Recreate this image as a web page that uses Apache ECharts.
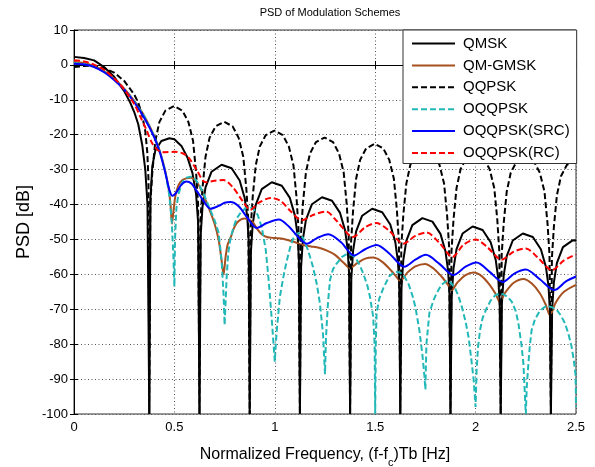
<!DOCTYPE html>
<html>
<head>
<meta charset="utf-8">
<script src="https://cdn.jsdelivr.net/npm/echarts@6/dist/echarts.min.js"></script>
<style>
html,body{margin:0;padding:0;background:#fff;}
#c{width:595px;height:467px;}
</style>
</head>
<body>
<div id="c"></div>
<script>
// ---- Data ----
const seriesNames = ['QMSK', 'QM-GMSK', 'QQPSK', 'OQQPSK', 'OQQPSK(SRC)', 'OQQPSK(RC)'];
const xTickLabels = ['0', '0.5', '1', '1.5', '2', '2.5'];
const yTickLabels = ['10', '0', '-10', '-20', '-30', '-40', '-50', '-60', '-70', '-80', '-90', '-100'];

const qmsk = [
  [0,2.3],[0.05,2.0],[0.1,1.3],[0.15,-0.6],[0.2,-3.4],[0.25,-7.5],[0.28,-10.8],[0.3,-13.5],[0.32,-17],[0.34,-23],[0.355,-30],[0.366,-40],[0.375,-100],
  [0.381,-38],[0.39,-29],[0.405,-24.5],[0.435,-21.8],[0.475,-21],[0.5,-21.3],[0.535,-23.2],[0.565,-26.5],[0.59,-31],[0.608,-37],[0.618,-45],[0.625,-100],
  [0.631,-48.6],[0.64,-40.6],[0.655,-35.1],[0.685,-30.6],[0.735,-28.6],[0.785,-29.6],[0.825,-33.1],[0.85,-38.1],[0.863,-43.6],[0.87,-50.6],[0.875,-100],
  [0.881,-53.6],[0.89,-45.6],[0.905,-40.1],[0.935,-35.6],[0.985,-33.6],[1.035,-34.6],[1.075,-38.1],[1.1,-43.1],[1.113,-48.6],[1.12,-55.6],[1.125,-100],
  [1.131,-57.9],[1.14,-49.9],[1.155,-44.4],[1.185,-39.9],[1.235,-37.9],[1.285,-38.9],[1.325,-42.4],[1.35,-47.4],[1.363,-52.9],[1.37,-59.9],[1.375,-100],
  [1.381,-61.2],[1.39,-53.2],[1.405,-47.7],[1.435,-43.2],[1.485,-41.2],[1.535,-42.2],[1.575,-45.7],[1.6,-50.7],[1.613,-56.2],[1.62,-63.2],[1.625,-100],
  [1.631,-63.9],[1.64,-55.9],[1.655,-50.4],[1.685,-45.9],[1.735,-43.9],[1.785,-44.9],[1.825,-48.4],[1.85,-53.4],[1.863,-58.9],[1.87,-65.9],[1.875,-100],
  [1.881,-66.3],[1.89,-58.3],[1.905,-52.8],[1.935,-48.3],[1.985,-46.3],[2.035,-47.3],[2.075,-50.8],[2.1,-55.8],[2.113,-61.3],[2.12,-68.3],[2.125,-100],
  [2.131,-68.3],[2.14,-60.3],[2.155,-54.8],[2.185,-50.3],[2.235,-48.3],[2.285,-49.3],[2.325,-52.8],[2.35,-57.8],[2.363,-63.3],[2.37,-70.3],[2.375,-100],
  [2.381,-70.2],[2.39,-62.2],[2.405,-56.7],[2.435,-52.2],[2.485,-50.2],[2.5,-50.3]
];

const qmGmsk = [
  [0,0.8],[0.05,0.5],[0.1,-0.3],[0.15,-1.8],[0.2,-4.0],[0.25,-6.8],[0.3,-10.3],[0.35,-14.6],[0.4,-20.4],[0.43,-25.2],[0.455,-30.5],[0.47,-35],[0.48,-39.5],[0.488,-45.5],
  [0.495,-42],[0.505,-37.5],[0.52,-34.5],[0.54,-33],[0.56,-32.5],[0.58,-32.3],[0.6,-32.8],[0.625,-34.8],[0.65,-38],[0.675,-41.5],[0.7,-45.5],[0.72,-50],[0.735,-56],[0.745,-60],
  [0.755,-55],[0.765,-51.5],[0.78,-49.5],[0.795,-47],[0.81,-45.3],[0.83,-44.3],[0.85,-44],[0.87,-44.3],[0.89,-45],[0.91,-46.8],[0.935,-48.5],[0.96,-49.3],[1.0,-49.6],
  [1.04,-49.8],[1.09,-50.6],[1.14,-51.6],[1.18,-52],[1.22,-52.4],[1.26,-53.2],[1.3,-54.4],[1.34,-56.5],[1.375,-58.2],[1.41,-56.8],[1.45,-55.5],[1.49,-55.2],
  [1.53,-56.2],[1.57,-58.3],[1.6,-60.3],[1.625,-61.8],[1.66,-59.5],[1.7,-57.7],[1.748,-57],[1.79,-58.3],[1.83,-60.6],[1.86,-62.8],[1.88,-64.5],[1.91,-62.3],
  [1.95,-60.2],[1.99,-59.5],[2.03,-60.5],[2.07,-63],[2.1,-65.6],[2.12,-67.8],[2.15,-65],[2.19,-62.4],[2.238,-61.3],[2.28,-62.6],[2.32,-65.4],[2.35,-68.8],
  [2.37,-71.7],[2.4,-68],[2.44,-65],[2.5,-63]
];

const qqpsk = [
  [0,-0.6],[0.05,-0.3],[0.1,-0.2],[0.15,-0.9],[0.2,-2.2],[0.25,-4.6],[0.28,-6.9],[0.3,-8.5],[0.32,-10.8],[0.34,-14.5],[0.355,-19],[0.365,-25],[0.371,-33],[0.375,-100],
  [0.38,-39.8],[0.39,-30.8],[0.405,-21.8],[0.425,-16.4],[0.455,-13.1],[0.498,-11.8],[0.54,-13.1],[0.57,-16.4],[0.593,-21.8],[0.608,-30.8],[0.618,-39.8],[0.625,-100],
  [0.63,-44.3],[0.64,-35.3],[0.655,-26.3],[0.675,-20.9],[0.705,-17.6],[0.748,-16.3],[0.79,-17.6],[0.82,-20.9],[0.843,-26.3],[0.858,-35.3],[0.868,-44.3],[0.875,-100],
  [0.88,-46.8],[0.89,-37.8],[0.905,-28.8],[0.925,-23.4],[0.955,-20.1],[0.998,-18.8],[1.04,-20.1],[1.07,-23.4],[1.093,-28.8],[1.108,-37.8],[1.118,-46.8],[1.125,-100],
  [1.13,-48.8],[1.14,-39.8],[1.155,-30.8],[1.175,-25.4],[1.205,-22.1],[1.248,-20.8],[1.29,-22.1],[1.32,-25.4],[1.343,-30.8],[1.358,-39.8],[1.368,-48.8],[1.375,-100],
  [1.38,-50.6],[1.39,-41.6],[1.405,-32.6],[1.425,-27.2],[1.455,-23.9],[1.498,-22.6],[1.54,-23.9],[1.57,-27.2],[1.593,-32.6],[1.608,-41.6],[1.618,-50.6],[1.625,-100],
  [1.63,-52],[1.64,-43],[1.655,-34],[1.675,-28.6],[1.705,-25.3],[1.748,-24],[1.79,-25.3],[1.82,-28.6],[1.843,-34],[1.858,-43],[1.868,-52],[1.875,-100],
  [1.88,-53.3],[1.89,-44.3],[1.905,-35.3],[1.925,-29.9],[1.955,-26.6],[1.998,-25.3],[2.04,-26.6],[2.07,-29.9],[2.093,-35.3],[2.108,-44.3],[2.118,-53.3],[2.125,-100],
  [2.13,-54.3],[2.14,-45.3],[2.155,-36.3],[2.175,-30.9],[2.205,-27.6],[2.248,-26.3],[2.29,-27.6],[2.32,-30.9],[2.343,-36.3],[2.358,-45.3],[2.368,-54.3],[2.375,-100],
  [2.38,-55.3],[2.39,-46.3],[2.405,-37.3],[2.425,-31.9],[2.455,-28.6],[2.498,-27.3],[2.5,-27.3]
];

const oqqpsk = [
  [0,0.5],[0.05,0.3],[0.1,-0.4],[0.15,-1.9],[0.2,-4.1],[0.25,-6.9],[0.3,-10.4],[0.35,-14.7],[0.4,-20.5],[0.43,-25.3],[0.455,-30.5],[0.475,-37.5],[0.487,-45],[0.495,-55],[0.5,-63.5],
  [0.503,-50],[0.51,-41],[0.52,-37],[0.54,-33.5],[0.56,-32.3],[0.58,-32],[0.6,-32.5],[0.625,-34.5],[0.65,-37.5],[0.675,-41],[0.7,-44.5],[0.72,-48],[0.735,-56],[0.745,-66],[0.75,-74.5],
  [0.755,-68],[0.76,-61],[0.768,-54],[0.78,-49.5],[0.795,-46.4],[0.81,-44],[0.83,-42.3],[0.855,-41],[0.875,-40.6],[0.895,-41.3],[0.915,-43],[0.935,-46.5],[0.955,-53],[0.97,-62],[0.985,-73],[1.0,-85],
  [1.005,-80],[1.01,-76],[1.025,-66.5],[1.045,-60],[1.06,-56],[1.08,-51.5],[1.1,-48.5],[1.12,-48.2],[1.14,-49.5],[1.165,-53],[1.19,-57.8],[1.21,-63],[1.225,-68.5],[1.24,-77],[1.25,-88.6],
  [1.255,-78],[1.265,-68],[1.275,-61.6],[1.29,-58.5],[1.308,-56.9],[1.335,-55],[1.358,-54.2],[1.38,-54.4],[1.4,-55],[1.42,-57],[1.44,-59.7],[1.46,-63],[1.474,-66.4],[1.49,-72.2],[1.497,-80],[1.5,-100],
  [1.503,-80],[1.507,-71],[1.52,-67],[1.54,-64],[1.57,-60.5],[1.6,-59.2],[1.625,-59.5],[1.645,-60.6],[1.665,-62.6],[1.685,-66],[1.7,-69.3],[1.72,-76],[1.735,-83],[1.745,-89],[1.75,-93],
  [1.755,-80],[1.77,-71],[1.79,-67.5],[1.805,-65.5],[1.83,-63],[1.856,-61.8],[1.875,-62.3],[1.9,-64.2],[1.915,-66.3],[1.93,-69],[1.95,-73.5],[1.965,-78],[1.98,-85],[1.99,-90],[2.0,-98],
  [2.005,-87.4],[2.012,-81],[2.022,-76],[2.035,-72.5],[2.055,-69.7],[2.075,-67.5],[2.097,-66],[2.12,-65.5],[2.138,-65.7],[2.16,-66.5],[2.18,-67.8],[2.2,-70.5],[2.213,-74],[2.228,-80],[2.238,-85.5],[2.25,-100],
  [2.255,-92],[2.263,-85.5],[2.27,-80.5],[2.279,-76],[2.295,-73],[2.312,-71.2],[2.333,-69.8],[2.354,-69],[2.38,-69.4],[2.404,-70.2],[2.425,-71.8],[2.445,-74],[2.462,-77],[2.478,-80.7],[2.49,-85],[2.498,-89],[2.5,-98]
];

const oqqpskSrc = [
  [0,0.3],[0.05,0.1],[0.1,-0.6],[0.15,-2.1],[0.2,-4.3],[0.25,-7.1],[0.3,-10.7],[0.35,-15.2],[0.4,-20.8],[0.43,-25.5],[0.455,-31],[0.475,-35.8],[0.49,-37.5],
  [0.51,-36.5],[0.535,-34.3],[0.56,-33.4],[0.585,-34],[0.61,-36],[0.64,-38.5],[0.68,-41.2],[0.72,-40.4],[0.75,-39.5],[0.78,-39.3],[0.82,-40.5],[0.86,-43.5],
  [0.91,-46.7],[0.96,-45.3],[1.02,-44.3],[1.07,-46.3],[1.12,-49.5],[1.16,-51.2],[1.21,-49.6],[1.267,-48.5],[1.33,-50.8],[1.395,-54.6],[1.45,-52.8],[1.507,-51.6],
  [1.57,-54],[1.645,-57.8],[1.7,-55.8],[1.752,-54.4],[1.82,-57],[1.89,-60.2],[1.95,-57.8],[2.005,-56.6],[2.07,-59.3],[2.135,-62.2],[2.195,-59.7],[2.25,-58.6],
  [2.32,-61.4],[2.392,-64.5],[2.45,-62],[2.5,-60.6]
];

const oqqpskRc = [
  [0,1.3],[0.05,1.0],[0.1,0.1],[0.15,-1.4],[0.2,-3.8],[0.25,-7.0],[0.3,-11.2],[0.33,-14.8],[0.36,-18.5],[0.39,-22.5],[0.42,-24.5],[0.45,-25],[0.5,-24.9],
  [0.54,-25.3],[0.57,-26.5],[0.61,-30],[0.655,-33.6],[0.7,-33.2],[0.745,-33],[0.79,-35],[0.84,-39],[0.878,-41.5],[0.92,-39.5],[0.98,-38.1],[1.03,-39],
  [1.08,-42],[1.135,-44.5],[1.19,-43],[1.255,-42],[1.31,-44.8],[1.39,-49.3],[1.45,-46.5],[1.505,-45.3],[1.57,-47.5],[1.64,-51.2],[1.7,-49],[1.755,-48],
  [1.82,-51],[1.885,-55],[1.94,-51.5],[2.0,-50],[2.06,-52.3],[2.13,-55.8],[2.19,-53.5],[2.25,-52.6],[2.31,-55.2],[2.38,-58.8],[2.44,-56],[2.5,-54.3]
];

// ---- Chart ----
const chart = echarts.init(document.getElementById('c'), null, {renderer: 'canvas'});
const FONT = 'Liberation Sans, Arial, sans-serif';
const dash = [6, 3];
const gridLine = {show: true, lineStyle: {color: '#555', type: [1, 2.5], width: 1}};

function mk(name, data, color, dashed, smooth) {
  return {
    name: name, type: 'line', data: data, showSymbol: false, symbol: 'none',
    smooth: smooth, clip: true, animation: false,
    lineStyle: {color: color, width: 2, type: dashed ? dash : 'solid'},
    itemStyle: {color: color}
  };
}

const option = {
  animation: false,
  backgroundColor: '#fff',
  title: {
    text: 'PSD of Modulation Schemes', left: 325, top: 2, textAlign: 'center',
    textStyle: {fontFamily: FONT, fontSize: 11, fontWeight: 'normal', color: '#000'}
  },
  grid: {left: 74, right: 19, top: 30, bottom: 53, show: true, borderColor: '#333', borderWidth: 1,
    backgroundColor: '#fff', containLabel: false, outerBoundsMode: 'none'},
  legend: {
    data: seriesNames, orient: 'vertical', left: 403, top: 30, z: 10,
    itemWidth: 43, itemHeight: 15, itemGap: 6.9,
    padding: [6, 7, 3, 8], backgroundColor: '#fff', borderColor: '#333', borderWidth: 1, borderRadius: 0,
    textStyle: {fontFamily: FONT, fontSize: 15, color: '#000', padding: [0, 0, 0, 3]},
    itemStyle: {opacity: 0, borderWidth: 0},
    selectedMode: false
  },
  xAxis: [{
    type: 'value', min: 0, max: 2.5, interval: 0.5,
    axisLine: {show: true, lineStyle: {color: '#000'}},
    axisTick: {show: true, inside: true, length: 4, lineStyle: {color: '#000'}},
    axisLabel: {fontFamily: FONT, fontSize: 13, color: '#000', margin: 7,
      formatter: function (v) { const i = Math.round(v / 0.5); return xTickLabels[i] !== undefined ? xTickLabels[i] : ''; }},
    splitLine: gridLine,
    name: '{a|Normalized Frequency, (f-f}{s|c}{a|)Tb [Hz]}', nameLocation: 'middle', nameGap: 33,
    nameMoveOverlap: false,
    nameTextStyle: {rich: {
      a: {fontFamily: FONT, fontSize: 16, color: '#000', lineHeight: 20, verticalAlign: 'top'},
      s: {fontFamily: FONT, fontSize: 11, color: '#000', lineHeight: 21, verticalAlign: 'bottom'}
    }}
  }, {
    type: 'value', min: 0, max: 2.5, interval: 0.5, position: 'top',
    axisLine: {show: false}, axisLabel: {show: false}, splitLine: {show: false},
    axisTick: {show: true, inside: true, length: 4, lineStyle: {color: '#000'}}
  }],
  yAxis: [{
    type: 'value', min: -100, max: 10, interval: 10,
    axisLine: {show: true, lineStyle: {color: '#000'}},
    axisTick: {show: true, inside: true, length: 4, lineStyle: {color: '#000'}},
    axisLabel: {fontFamily: FONT, fontSize: 13, color: '#000', margin: 6,
      formatter: function (v) { const i = Math.round((10 - v) / 10); return yTickLabels[i] !== undefined ? yTickLabels[i] : ''; }},
    splitLine: gridLine,
    name: 'PSD [dB]', nameLocation: 'middle', nameGap: 41, nameRotate: 90,
    nameMoveOverlap: false,
    nameTextStyle: {fontFamily: FONT, fontSize: 18, color: '#000'}
  }, {
    type: 'value', min: -100, max: 10, interval: 10, position: 'right',
    axisLine: {show: false}, axisLabel: {show: false}, splitLine: {show: false},
    axisTick: {show: true, inside: true, length: 4, lineStyle: {color: '#000'}}
  }],
  series: [
    mk(seriesNames[0], qmsk, '#000000', false, false),
    mk(seriesNames[1], qmGmsk, '#a5501e', false, 0.3),
    mk(seriesNames[2], qqpsk, '#000000', true, false),
    mk(seriesNames[3], oqqpsk, '#22b8b8', true, false),
    mk(seriesNames[4], oqqpskSrc, '#0000ff', false, 0.3),
    mk(seriesNames[5], oqqpskRc, '#ff0000', true, 0.3)
  ]
};
chart.setOption(option);
</script>
</body>
</html>
